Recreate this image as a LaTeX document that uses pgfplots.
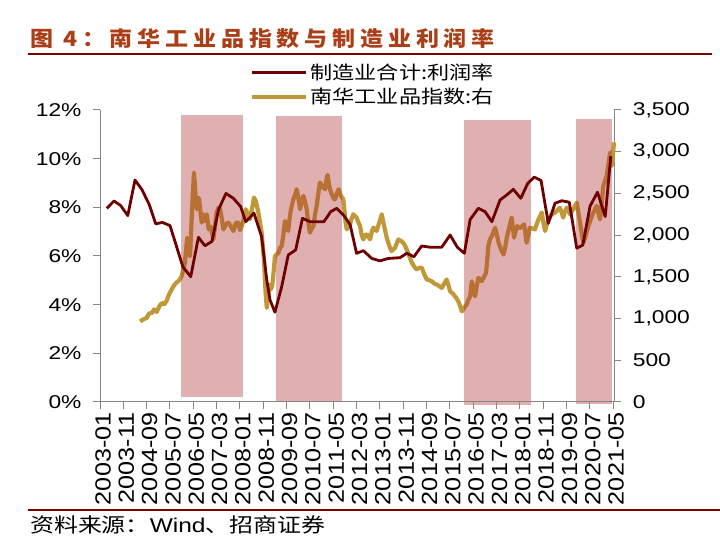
\documentclass[border=0pt]{standalone}
\usepackage{fontspec}
\usepackage{pgfplots}
\pgfplotsset{compat=1.18}
\setmainfont{Liberation Sans}[FakeStretch=1.23]
\newfontfamily\xfont{Liberation Sans}[FakeStretch=1.15]
\newfontfamily\cjk{Noto Sans CJK SC}[FakeStretch=1.2]
\newfontfamily\cjktitle{Noto Sans CJK SC}[FakeStretch=1.1,LetterSpace=23]
\definecolor{maroon}{RGB}{110,0,0}
\definecolor{goldc}{RGB}{192,152,56}
\definecolor{shadec}{RGB}{173,47,47}
\definecolor{titlec}{RGB}{170,62,22}
\definecolor{rulec}{RGB}{128,0,0}
\definecolor{axisgray}{RGB}{134,134,134}

\pgfplotstableread{
m v
17.2 966
18.5 990
20 1007
21 1060
22.2 1067
23.2 1110
24.3 1079
25.5 1150
26.5 1187
27.5 1170
28.6 1215
29.6 1290
30.7 1347
31.8 1400
32.9 1435
34 1460
35 1508
35.8 1600
36.4 1669
37 1850
37.4 1969
38 1800
38.6 1748
39.3 2200
39.8 2500
40.3 2750
40.9 2500
41.5 2310
42 2450
42.5 2430
43 2300
43.6 2150
44.3 2250
45 2170
45.8 2250
46.6 2069
47.5 2100
48.6 1949
49.3 2100
50 2270
50.8 2330
51.5 2310
52.2 2200
52.9 2070
54 2130
55 2150
56 2110
57.2 2049
58.3 2150
59.3 2150
60 2060
60.8 2109
61.8 2200
62.5 2310
63.4 2250
64.3 2190
65.2 2320
66 2450
66.9 2400
67.9 2270
68.6 2150
69.3 2030
70.3 1708
71 1308
71.5 1127
72 1250
72.5 1407
73.2 1350
73.8 1390
74.4 1550
75 1748
75.8 1770
76.5 1790
77.2 1850
77.9 1868
78.6 2000
79.3 2169
80 2100
80.7 2050
81.5 2250
82.2 2350
82.9 2430
83.6 2480
84.3 2550
85 2450
85.8 2310
86.5 2420
87.2 2470
87.9 2400
88.6 2310
89.3 2150
90 2030
90.8 2080
91.5 2109
92.2 2250
92.9 2350
93.6 2500
94.3 2631
95.4 2580
96.5 2550
97.2 2690
97.6 2720
98.1 2620
98.6 2550
99.5 2480
100.3 2430
100.8 2430
101.5 2500
102.3 2550
103.3 2470
104.3 2430
104.8 2300
105.3 2150
105.8 2069
106.5 2110
107.2 2129
107.9 2200
108.6 2250
109.3 2230
110 2210
110.8 2150
111.5 2110
112.2 2000
112.9 1949
113.7 2000
114.4 2010
115.1 1980
115.8 1949
116.5 2040
117.2 2090
117.9 2070
118.6 2050
119.7 2150
120.8 2250
121.5 2150
122.3 2050
123 1960
123.6 1909
124.3 1850
125 1808
125.8 1830
126.5 1849
127.2 1900
127.9 1949
129 1930
130 1909
130.8 1870
131.5 1829
132.6 1750
133.7 1669
134.8 1620
135.8 1588
137 1610
138 1608
139 1530
140.1 1468
141.2 1460
142.2 1448
143.3 1420
144.4 1407
145.4 1390
146.5 1367
147.6 1420
148.6 1468
149.4 1400
150.1 1327
151.2 1300
152.2 1267
152.9 1240
153.6 1207
154.4 1150
155.1 1086
155.8 1110
156.5 1146
157.2 1167
157.9 1220
158.7 1267
159.4 1447
160.1 1350
160.8 1267
161.5 1388
162.2 1488
163 1470
163.7 1448
164.6 1500
165.5 1548
166 1700
166.5 1868
167.2 1950
168 1989
168.7 2040
169.4 2089
170.2 2000
170.9 1909
171.9 1830
173 1768
173.7 1850
174.4 1969
175.5 2100
176.5 2210
177 2100
177.5 1969
178.2 2050
178.9 2109
179.6 2090
180.4 2089
181.1 2110
181.8 2129
182.4 2020
182.9 1909
183.6 2000
184.3 2089
185.4 2080
186.5 2069
187.2 2130
188 2190
188.7 2230
189.4 2270
190.1 2150
190.8 2049
191.5 2120
192.2 2190
192.9 2220
193.7 2250
194.4 2260
195.1 2270
196.1 2300
197.2 2330
197.9 2270
198.6 2210
199.3 2280
200.1 2330
200.8 2290
201.5 2250
202.2 2280
202.9 2310
203.6 2350
204.4 2390
205.1 2270
205.8 2150
206.5 2030
207.2 1909
207.9 1960
208.6 2030
209.3 2100
210.1 2170
210.8 2220
211.5 2270
212.2 2310
212.9 2350
213.6 2270
214.4 2190
215.1 2400
215.8 2590
216.5 2650
217.2 2710
218 2850
218.7 2992
219.1 2900
219.4 2830
220 3000
220.4 3112
}\nanhua

\pgfplotstableread{
m v
2.9 7.96
6 8.26
8.9 8.07
11.9 7.66
15 9.12
17.9 8.74
21 8.14
23.9 7.32
26.7 7.38
30 7.25
32.4 6.52
35.5 5.56
38.9 5.15
42.2 6.77
45 6.42
48 6.60
50.8 7.90
54 8.57
57.2 8.37
60.3 8.03
62.5 7.41
66 7.76
69.3 6.79
71.5 5.01
72.9 4.19
75 3.69
77.9 4.74
80.7 6.04
83.9 6.25
86.8 7.55
90 7.41
92.9 7.41
96 7.41
98.9 7.82
101.5 7.96
104.3 7.69
107.2 7.30
110 6.11
112.9 6.22
116.5 5.90
120 5.80
123.6 5.90
128.6 5.93
131.5 6.11
134.6 5.97
137.9 6.41
141.5 6.36
146.5 6.36
150.1 6.86
153.2 6.36
156.2 6.11
158.7 7.50
162.2 7.96
165.1 7.82
168 7.41
171.5 8.30
174.4 8.51
177.2 8.74
180.4 8.37
183.4 8.99
186.2 9.24
189.1 9.10
192.2 7.34
195.1 8.17
198 8.27
201.2 8.21
204.4 6.32
207 6.45
210.1 8.05
213.3 8.62
216.6 7.62
219 10.1
}\profit

\begin{document}
\begin{tikzpicture}[x=1bp,y=1bp]
\useasboundingbox (0,0) rectangle (720,557);
% title
\node[anchor=base west, inner sep=0pt, text=titlec] at (30,510)
  {\cjktitle\bfseries\fontsize{21}{24}\selectfont 图 4：南华工业品指数与制造业利润率};
\draw[rulec, line width=2.5bp] (28,503) -- (712,503);
% right axis: Nanhua index + shaded periods
\begin{axis}[
  at={(100bp,155bp)}, anchor=south west,
  scale only axis, width=514.3bp, height=292bp,
  xmin=0, xmax=220.5, ymin=0, ymax=3500,
  axis x line=none, axis y line*=right,
  ytick={0,500,...,3500},
  scaled y ticks=false,
  tick align=outside, major tick length=7bp,
  y axis line style={axisgray, line width=1bp},
  ytick style={axisgray, line width=1bp},
  /pgf/number format/assume math mode=true,
  /pgf/number format/1000 sep={,},
  yticklabel style={font=\fontsize{18.6}{20}\selectfont, xshift=8bp},
  clip=false,
]
\addplot[goldc, line width=4.2bp, line join=round] table[x=m,y=v] {\nanhua};
\fill[shadec, opacity=0.38] (axis cs:34.7,64) rectangle (axis cs:61.3,3444);
\fill[shadec, opacity=0.38] (axis cs:75.5,16) rectangle (axis cs:103.8,3432);
\fill[shadec, opacity=0.38] (axis cs:156,-36) rectangle (axis cs:184.8,3384);
\fill[shadec, opacity=0.38] (axis cs:204,-24) rectangle (axis cs:219.6,3392);
\end{axis}
% left axis: profit rate
\begin{axis}[
  at={(100bp,155bp)}, anchor=south west,
  scale only axis, width=514.3bp, height=292bp,
  xmin=0, xmax=220.5, ymin=0, ymax=12,
  axis x line*=bottom, axis y line*=left,
  xtick={0,10,...,220},
  xticklabels={2003-01,2003-11,2004-09,2005-07,2006-05,2007-03,2008-01,2008-11,2009-09,2010-07,2011-05,2012-03,2013-01,2013-11,2014-09,2015-07,2016-05,2017-03,2018-01,2018-11,2019-09,2020-07,2021-05},
  ytick={0,2,...,12},
  yticklabel={\pgfmathprintnumber{\tick}\%},
  tick align=outside, major tick length=7bp,
  axis line style={axisgray, line width=1bp},
  tick style={axisgray, line width=1bp},
  /pgf/number format/assume math mode=true,
  yticklabel style={font=\fontsize{18.6}{20}\selectfont, xshift=-8bp},
  xticklabel style={rotate=90, anchor=east, font=\xfont\fontsize{22}{24}\selectfont, yshift=-3bp},
  legend style={at={(axis description cs:0.292,1.164)}, anchor=north west,
    draw=none, fill=none, inner sep=0pt, row sep=3bp,
    nodes={inner sep=2bp},
    font=\cjk\fontsize{18.5}{20}\selectfont},
  legend cell align=left,
  legend image code/.code={\draw[#1] (0bp,0bp) -- (54bp,0bp);},
]
\addplot[maroon, line width=2.8bp, line join=round] table[x=m,y=v] {\profit};
\addlegendentry{制造业合计:利润率}
\addlegendimage{goldc, line width=4.2bp}
\addlegendentry{南华工业品指数:右}
\end{axis}
% source
\draw[rulec, line width=2.5bp] (28,47) -- (720,47);
\node[anchor=base west, inner sep=0pt] at (30,24)
  {\cjk\fontsize{20}{24}\selectfont 资料来源：{\rmfamily Wind}、招商证券};
\end{tikzpicture}
\end{document}
